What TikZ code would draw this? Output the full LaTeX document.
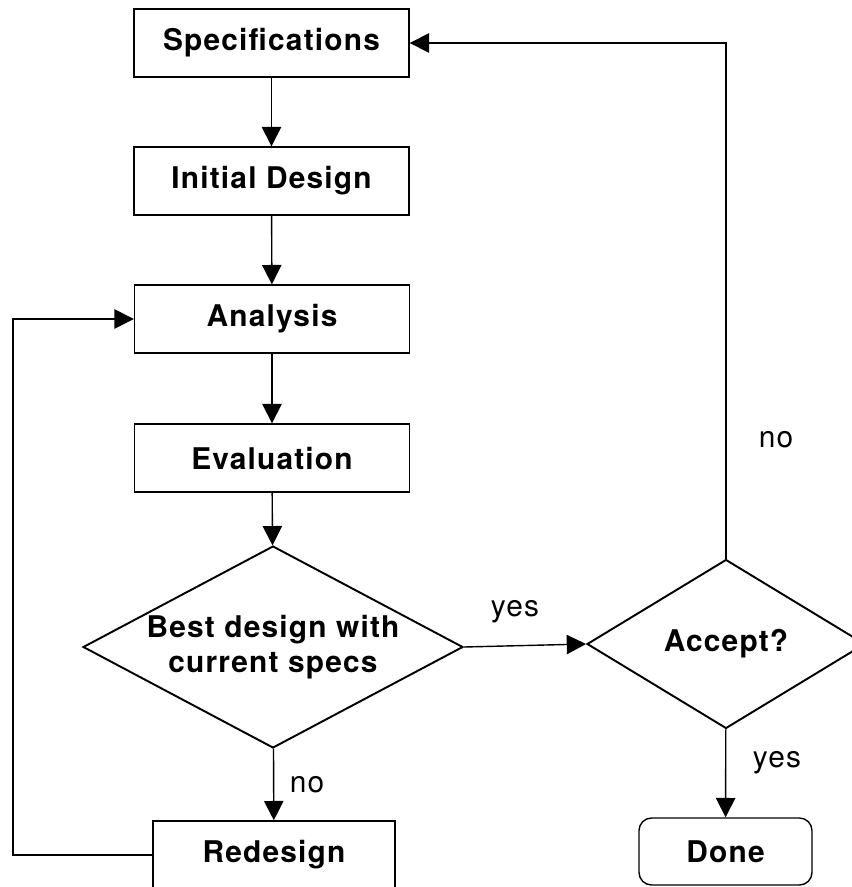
\documentclass[tikz,border=0pt]{standalone}
\usepackage{fontspec}
\setmainfont{TeX Gyre Heros}[LetterSpace=4]
\usepackage{tikz}
\usetikzlibrary{shapes.geometric,arrows.meta}

\tikzset{
  box/.style={draw, line width=0.8pt, minimum width=5.5cm, minimum height=1.36cm,
    inner sep=0pt, font=\fontsize{17}{20}\selectfont\bfseries},
  decision/.style={draw, diamond, line width=1.1pt, inner sep=0pt,
    font=\fontsize{17}{19.5}\selectfont\bfseries, align=center},
  term/.style={box, rounded corners=0.25cm, minimum width=3.46cm, minimum height=1.34cm},
  flow/.style={line width=0.8pt, -{Triangle[length=11pt,width=11pt]}},
  lbl/.style={font=\fontsize{17}{20}\selectfont},
}

\begin{document}
\begin{tikzpicture}[x=0.02cm,y=-0.02cm]
   \useasboundingbox (0,0) rectangle (852,887);

   % main column
   \node[box] (spec) at (271.5,43) {Specifications};
   \node[box] (init) at (271.5,181) {Initial Design};
   \node[box] (anal) at (272,319) {Analysis};
   \node[box] (eval) at (272,458) {Evaluation};
   \node[decision, aspect=1.88, minimum width=7.6cm, minimum height=4.04cm] (best) at (273,647)
      {Best design with\\current specs};
   \node[box, minimum width=4.84cm] (redes) at (274,855) {Redesign};

   % right branch
   \node[decision, aspect=1.64, minimum width=5.56cm, minimum height=3.38cm] (acc) at (726,644) {Accept?};
   \node[term] (done) at (725.5,851.5) {Done};

   % straight arrows down
   \foreach \a/\b in {spec/init, init/anal, anal/eval, eval/best, best/redes, acc/done}
   \draw[flow] (\a) -- (\b);

   \draw[flow] (best.east) -- (acc.west);

   % loops back
   \draw[flow] (redes.west) -| (13,319) -- (anal.west);
   \draw[flow] (acc.north) |- (spec.east);

   % labels
   \node[lbl] (yes1) at (515,612) {yes};
   \node[lbl] (no1) at (307,785) {no};
   \node[lbl] (yes2) at (777,763) {yes};
   \node[lbl] (no2) at (776,440) {no};
\end{tikzpicture}
\end{document}
